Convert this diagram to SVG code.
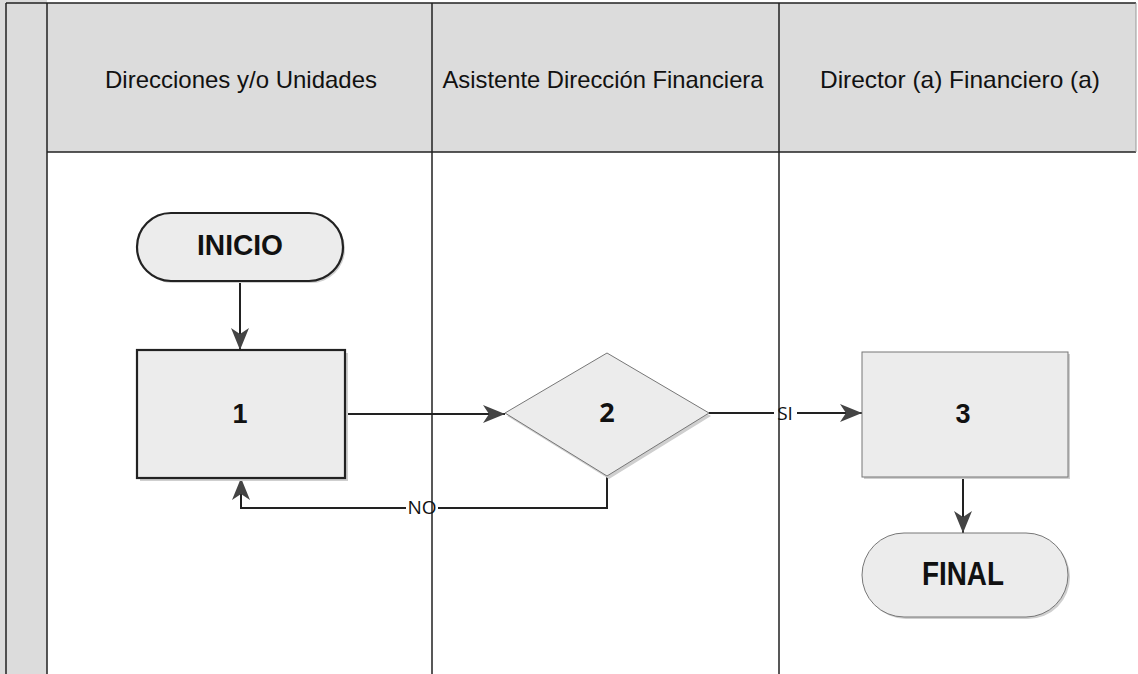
<svg xmlns="http://www.w3.org/2000/svg" width="1138" height="674" viewBox="0 0 1138 674">
<style>
.hdr{font-family:"Liberation Sans",Arial,sans-serif;font-size:24px;fill:#111;text-anchor:middle}
.lane{stroke:#222;stroke-width:1.5;fill:none}
.node{fill:#ececec}
.dark{stroke:#222;stroke-width:2.2}
.light{stroke:#777;stroke-width:1}
.lbl{font-family:"Liberation Sans",Arial,sans-serif;font-weight:bold;fill:#111;text-anchor:middle}
.edge{stroke:#222;stroke-width:2;fill:none}
</style>
<defs>
<marker id="ah" viewBox="0 0 22 22" refX="22" refY="11" markerWidth="22" markerHeight="22" markerUnits="userSpaceOnUse" orient="auto">
<path d="M0,2 L22,11 L0,20 L6,11 Z" fill="#444"/>
</marker>
</defs>
<rect width="1138" height="674" fill="#fff"/>
<g id="lanes">
<rect x="0" y="0" width="47" height="674" fill="#dcdcdc"/>
<rect x="47" y="3" width="1089" height="149" fill="#dcdcdc"/>
<path class="lane" d="M6,3 H1136 M6,3 V674 M47,3 V674 M47,152 H1136 M432,3 V674 M779,3 V674"/>
<path d="M1136,3 V152" stroke="#999" stroke-width="1"/>
<text class="hdr" x="241" y="88" textLength="272" lengthAdjust="spacingAndGlyphs">Direcciones y/o Unidades</text>
<text class="hdr" x="603" y="88" textLength="321" lengthAdjust="spacingAndGlyphs">Asistente Dirección Financiera</text>
<text class="hdr" x="960" y="88" textLength="280" lengthAdjust="spacingAndGlyphs">Director (a) Financiero (a)</text>
</g>
<g id="connectors">
<path class="edge" d="M240,282 V350" marker-end="url(#ah)"/>
<path class="edge" d="M345,414 H505" marker-end="url(#ah)"/>
<path class="edge" d="M709,413 H774 M797,413 H862" marker-end="url(#ah)"/>
<text x="785" y="420" font-family="'Open Sans','DejaVu Sans',sans-serif" font-size="19" fill="#111" text-anchor="middle">SI</text>
<path class="edge" d="M607,476 V508 H438 M406,508 H241 V478" marker-end="url(#ah)"/>
<text x="422" y="514" font-family="'Open Sans','DejaVu Sans',sans-serif" font-size="19" fill="#111" text-anchor="middle">NO</text>
<path class="edge" d="M963,477 V533" marker-end="url(#ah)"/>
</g>
<g id="inicio">
<rect x="139" y="215" width="206" height="68" rx="34" fill="#cfcfcf"/>
<rect x="137" y="213" width="206" height="68" rx="34" class="node dark" stroke-width="1.5"/>
<text class="lbl" x="240" y="255" font-size="29" textLength="86" lengthAdjust="spacingAndGlyphs">INICIO</text>
</g>
<g id="n1">
<rect x="140" y="353" width="208" height="128" fill="#cfcfcf"/>
<rect x="137" y="350" width="208" height="128" class="node dark"/>
<text class="lbl" x="240" y="423" font-size="27">1</text>
</g>
<g id="n2">
<polygon points="609,356 711,416 609,479 507,416" fill="#cfcfcf"/>
<polygon points="607,353 709,413 607,476 505,413" class="node light"/>
<text x="607" y="422" font-family="'Open Sans','DejaVu Sans',sans-serif" font-weight="bold" font-size="27" fill="#111" text-anchor="middle">2</text>
</g>
<g id="n3">
<rect x="864" y="354" width="206" height="125" fill="#cfcfcf"/>
<rect x="862" y="352" width="206" height="125" class="node light"/>
<text class="lbl" x="963" y="423" font-size="27">3</text>
</g>
<g id="final">
<rect x="864" y="535" width="206" height="84" rx="42" fill="#cfcfcf"/>
<rect x="862" y="533" width="206" height="84" rx="42" class="node light"/>
<text class="lbl" x="963" y="585" font-size="33" textLength="82" lengthAdjust="spacingAndGlyphs">FINAL</text>
</g>
</svg>
